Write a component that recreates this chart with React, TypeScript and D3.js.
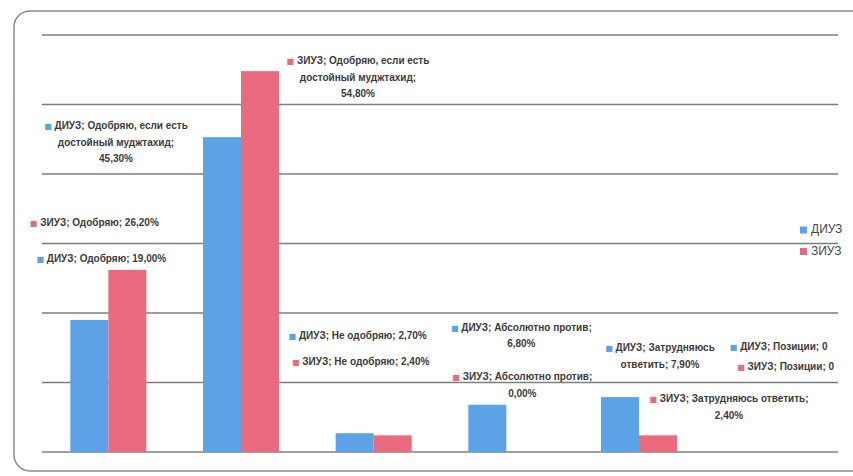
import React from "react";
import * as d3 from "d3";

const categories = [
  "Одобряю",
  "Одобряю, если есть достойный муджтахид",
  "Не одобряю",
  "Абсолютно против",
  "Затрудняюсь ответить",
  "Позиции",
];
const seriesNames = ["ДИУЗ", "ЗИУЗ"];
const diuzValues = [19.0, 45.3, 2.7, 6.8, 7.9, 0];
const ziuzValues = [26.2, 54.8, 2.4, 0.0, 2.4, 0];
const yTicks = [0, 10, 20, 30, 40, 50, 60];

const colors = ["#5ca2e6", "#eb6b7e"];

// label layout: offsets (px) from bar-top center, and line breaks
const labelLayout: { s: number; c: number; dx: number; dy: number; lines: string[] }[] = [
  { s: 0, c: 0, dx: 12, dy: -61, lines: ["ДИУЗ; Одобряю; {v}"] },
  { s: 1, c: 0, dx: -33, dy: -47, lines: ["ЗИУЗ; Одобряю; {v}"] },
  { s: 0, c: 1, dx: -106, dy: -11, lines: ["ДИУЗ; Одобряю, если есть", "достойный муджтахид;", "{v}"] },
  { s: 1, c: 1, dx: 98, dy: -10, lines: ["ЗИУЗ; Одобряю, если есть", "достойный муджтахид;", "{v}"] },
  { s: 0, c: 2, dx: 3, dy: -97, lines: ["ДИУЗ; Не одобряю; {v}"] },
  { s: 1, c: 2, dx: -32, dy: -73, lines: ["ЗИУЗ; Не одобряю; {v}"] },
  { s: 0, c: 3, dx: 34, dy: -77, lines: ["ДИУЗ; Абсолютно против;", "{v}"] },
  { s: 1, c: 3, dx: -3, dy: -75, lines: ["ЗИУЗ; Абсолютно против;", "{v}"] },
  { s: 0, c: 4, dx: 40, dy: -49, lines: ["ДИУЗ; Затрудняюсь", "ответить; {v}"] },
  { s: 1, c: 4, dx: 71, dy: -36, lines: ["ЗИУЗ; Затрудняюсь ответить;", "{v}"] },
  { s: 0, c: 5, dx: 26, dy: -105, lines: ["ДИУЗ; Позиции; {v}"] },
  { s: 1, c: 5, dx: -5, dy: -85, lines: ["ЗИУЗ; Позиции; {v}"] },
];

const W = 853;
const H = 476;
const plot = { left: 42, right: 838, top: 35, bottom: 452 };

function fmt(v: number, c: number) {
  if (c === 5) return String(v);
  return v.toFixed(2).replace(".", ",") + "%";
}

export default function App() {
  const values = [diuzValues, ziuzValues];
  const x0 = d3
    .scaleBand<string>()
    .domain(categories)
    .range([plot.left, plot.right])
    .paddingInner(0.427)
    .paddingOuter(0.2135);
  const x1 = d3.scaleBand<string>().domain(seriesNames).range([0, x0.bandwidth()]);
  const y = d3.scaleLinear().domain([0, 60]).range([plot.bottom, plot.top]);
  const font = "'Liberation Sans', Arial, sans-serif";

  return (
    <svg
      width={W}
      height={H}
      style={{ position: "absolute", left: 0, top: 0, background: "#fff" }}
    >
      <rect x={14} y={11} width={860} height={460} rx={16} fill="#fff" stroke="#8a8a8a" strokeWidth={1.5} />
      {yTicks.map((t) => (
        <line key={t} x1={plot.left} x2={plot.right} y1={y(t)} y2={y(t)} stroke="#7e7e7e" strokeWidth={1.6} />
      ))}
      {seriesNames.map((s, si) =>
        categories.map((c, ci) => {
          const v = values[si][ci];
          const bx = (x0(c) as number) + (x1(s) as number);
          return (
            <rect
              key={s + c}
              x={bx}
              y={y(v)}
              width={x1.bandwidth()}
              height={y(0) - y(v)}
              fill={colors[si]}
            />
          );
        })
      )}
      {labelLayout.map((l, i) => {
        const cat = categories[l.c];
        const v = values[l.s][l.c];
        const cx = (x0(cat) as number) + (x1(seriesNames[l.s]) as number) + x1.bandwidth() / 2 + l.dx;
        const cy = y(v) + l.dy;
        return (
          <text
            key={i}
            x={cx}
            y={cy}
            textAnchor="middle"
            dominantBaseline="middle"
            fontFamily={font}
            fontSize={10}
            fontWeight="bold"
            fill="#3a3a3a"
          >
            {l.lines.map((ln, li) => (
              <tspan key={li} x={cx} dy={li === 0 ? 0 : 16.5}>
                {li === 0 ? (
                  <tspan fill={colors[l.s]} fontSize={8} fontFamily="'DejaVu Sans'">
                    {"■  "}
                  </tspan>
                ) : null}
                {ln.replace("{v}", fmt(v, l.c))}
              </tspan>
            ))}
          </text>
        );
      })}
      {seriesNames.map((s, si) => (
        <g key={s} transform={`translate(800, ${230 + si * 21.5})`}>
          <rect x={0} y={-3.5} width={7} height={7} fill={colors[si]} />
          <text x={11} y={0} dominantBaseline="middle" fontFamily={font} fontSize={12} fill="#444">
            {s}
          </text>
        </g>
      ))}
    </svg>
  );
}
